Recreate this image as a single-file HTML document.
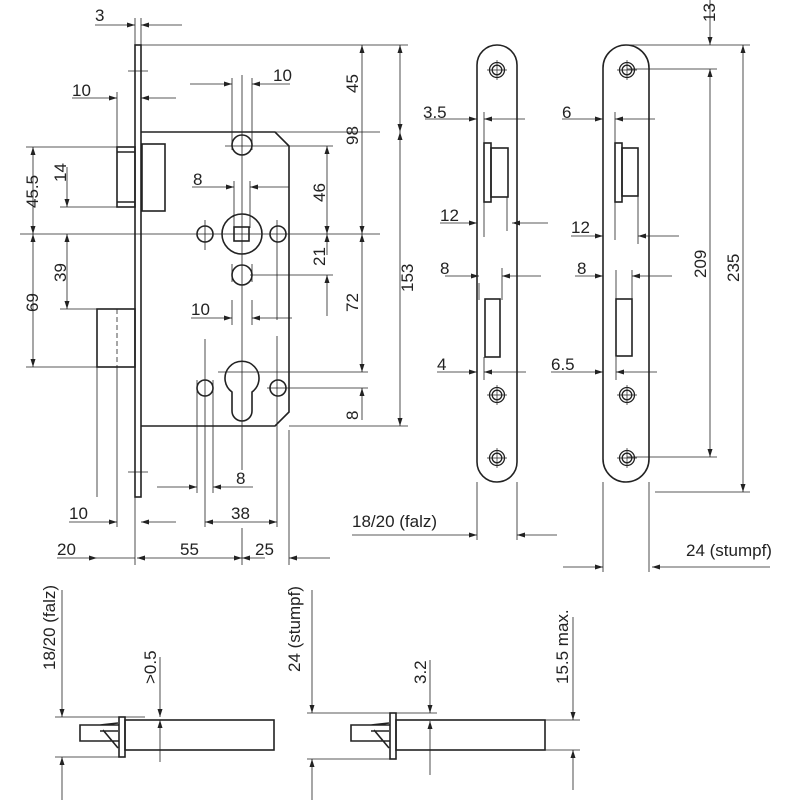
<!DOCTYPE html>
<html><head><meta charset="utf-8"><style>
html,body{margin:0;padding:0;background:#fff;}
svg{display:block;}
text{font-family:"Liberation Sans",sans-serif;font-size:17px;fill:#222;}
</style></head><body>
<svg width="800" height="800" viewBox="0 0 800 800" xmlns="http://www.w3.org/2000/svg">
<defs>
<marker id="a" viewBox="0 0 8 6" refX="8" refY="3" markerWidth="8" markerHeight="6" orient="auto" markerUnits="userSpaceOnUse"><path d="M0,0.5 L8,3 L0,5.5z" fill="#222"/></marker>
<g id="scr"><circle r="7.5" fill="none" stroke="#222" stroke-width="1.3"/><circle r="4.8" fill="none" stroke="#222" stroke-width="1.3"/><path d="M-10,0H10M0,-10V10" stroke="#222" stroke-width="0.7"/></g>
</defs>

<g stroke="#222" stroke-width="0.8" fill="none">
<path d="M20,234H380 M242,75V470"/>
<path d="M135,18V45 M141,18V45 M141,45H408 M275,132H380 M117,92V147 M232,78V150 M252,78V150 M234,181V228 M250,181V228 M128,71H148 M128,472H148"/>
<path d="M225,146H333 M250,275H333 M218,372H368 M267,388H368 M289,426H408 M26,147H117 M60,207H117 M60,309H97 M26,367H97"/>
<path d="M232,264V282 M252,264V282 M232,300V325 M252,300V325"/>
<path d="M197,380V493 M213,380V493 M205,339V527 M277,336V527 M205,395V350 M277,220V250 M205,220V250 M277,250V320"/>
<path d="M117,367V527 M97,367V497 M135,497V565 M289,430V565 M242,528V565"/>
<path d="M95,25H135" marker-end="url(#a)"/><path d="M182,25H141" marker-end="url(#a)"/>
<path d="M72,98H117" marker-end="url(#a)"/><path d="M176,98H141" marker-end="url(#a)"/>
<path d="M190,84H232" marker-end="url(#a)"/><path d="M290,84H252" marker-end="url(#a)"/>
<path d="M192,187H234" marker-end="url(#a)"/><path d="M289,187H250" marker-end="url(#a)"/>
<path d="M191,318H232" marker-end="url(#a)"/><path d="M292,318H252" marker-end="url(#a)"/>
<path d="M157,487H197" marker-end="url(#a)"/><path d="M253,487H213" marker-end="url(#a)"/>
<path d="M240,522H205" marker-end="url(#a)"/><path d="M240,522H277" marker-end="url(#a)"/>
<path d="M69,522H117" marker-end="url(#a)"/><path d="M176,522H141" marker-end="url(#a)"/>
<path d="M57,558H97" marker-end="url(#a)"/><path d="M97,558H135"/>
<path d="M190,558H137" marker-end="url(#a)"/><path d="M190,558H242" marker-end="url(#a)"/>
<path d="M265,558H242" marker-end="url(#a)"/><path d="M330,558H289" marker-end="url(#a)"/>
<path d="M400,90V45" marker-end="url(#a)"/><path d="M400,90V132" marker-end="url(#a)"/>
<path d="M400,280V132" marker-end="url(#a)"/><path d="M400,280V426" marker-end="url(#a)"/>
<path d="M362,140V45" marker-end="url(#a)"/><path d="M362,140V234" marker-end="url(#a)"/>
<path d="M362,300V234" marker-end="url(#a)"/><path d="M362,300V372" marker-end="url(#a)"/>
<path d="M362,420V388" marker-end="url(#a)"/>
<path d="M327,190V146" marker-end="url(#a)"/><path d="M327,190V234" marker-end="url(#a)"/>
<path d="M327,255V234" marker-end="url(#a)"/><path d="M327,316V275" marker-end="url(#a)"/>
<path d="M33,190V147" marker-end="url(#a)"/><path d="M33,190V234" marker-end="url(#a)"/>
<path d="M33,300V234" marker-end="url(#a)"/><path d="M33,300V367" marker-end="url(#a)"/>
<path d="M67,167V207" marker-end="url(#a)"/>
<path d="M67,270V234" marker-end="url(#a)"/><path d="M67,270V309" marker-end="url(#a)"/>

<path d="M484,112V237 M507,197V231 M479,283V300 M502,268V300 M484,357V380 M477,482V540 M517,482V540"/>
<path d="M425,119H477" marker-end="url(#a)"/><path d="M525,119H484" marker-end="url(#a)"/>
<path d="M440,223H477" marker-end="url(#a)"/><path d="M548,223H512" marker-end="url(#a)"/>
<path d="M445,276H479" marker-end="url(#a)"/><path d="M541,276H502" marker-end="url(#a)"/>
<path d="M437,372H477" marker-end="url(#a)"/><path d="M526,372H484" marker-end="url(#a)"/>
<path d="M352,535H477" marker-end="url(#a)"/><path d="M557,535H517" marker-end="url(#a)"/>
<path d="M615,112V240 M638,196V244 M616,270V300 M632,270V300 M616,357V380 M603,482V572 M649,482V572"/>
<path d="M562,119H603" marker-end="url(#a)"/><path d="M655,119H615" marker-end="url(#a)"/>
<path d="M571,236H603" marker-end="url(#a)"/><path d="M679,236H638" marker-end="url(#a)"/>
<path d="M575,276H603" marker-end="url(#a)"/><path d="M672,276H632" marker-end="url(#a)"/>
<path d="M551,372H603" marker-end="url(#a)"/><path d="M657,372H616" marker-end="url(#a)"/>
<path d="M563,567H603" marker-end="url(#a)"/><path d="M770,567H652" marker-end="url(#a)"/>
<path d="M627,45H750 M627,69H717 M627,457H717 M655,492H750"/>
<path d="M710,0V45" marker-end="url(#a)"/>
<path d="M710,265V69" marker-end="url(#a)"/><path d="M710,265V457" marker-end="url(#a)"/>
<path d="M743,265V45" marker-end="url(#a)"/><path d="M743,265V492" marker-end="url(#a)"/>

<path d="M55,717H145 M55,757H120 M125,720H167"/>
<path d="M62,590V717" marker-end="url(#a)"/><path d="M62,800V757" marker-end="url(#a)"/>
<path d="M160,657V717" marker-end="url(#a)"/><path d="M160,762V720" marker-end="url(#a)"/>
<path d="M307,713H437 M307,759H392 M545,720H580 M545,750H580"/>
<path d="M312,590V713" marker-end="url(#a)"/><path d="M312,800V759" marker-end="url(#a)"/>
<path d="M430,660V713" marker-end="url(#a)"/><path d="M430,775V721" marker-end="url(#a)"/>
<path d="M573,617V720" marker-end="url(#a)"/><path d="M573,790V750" marker-end="url(#a)"/>
<path d="M117,309V367" stroke-dasharray="5,3"/>
</g>

<g stroke="#222" stroke-width="1.6" fill="none">
<rect x="135" y="45" width="6" height="452"/>
<path d="M141,132H275L289,146V412L275,426H141"/>
<rect x="117" y="147" width="18" height="60"/>
<path d="M117,152H135 M117,202H135"/>
<rect x="142" y="144" width="23" height="67"/>
<rect x="97" y="309" width="38" height="58"/>
<circle cx="242" cy="145" r="10"/>
<circle cx="242" cy="275" r="10"/>
<circle cx="242" cy="234" r="20"/>
<rect x="234" y="227" width="15" height="14"/>
<circle cx="205" cy="234" r="8"/>
<circle cx="278" cy="234" r="8"/>
<circle cx="205" cy="388" r="8"/>
<circle cx="278" cy="388" r="8"/>
<path d="M232,392A17,17 0 1 1 252,392V411A10,10 0 0 1 232,411Z"/>
<rect x="477" y="45" width="40" height="437" rx="20" ry="20"/>
<rect x="484" y="143" width="7" height="59"/>
<rect x="491" y="148" width="17" height="49"/>
<rect x="485" y="299" width="15" height="58"/>
<rect x="603" y="45" width="46" height="437" rx="23" ry="23"/>
<rect x="615" y="143" width="7" height="59"/>
<rect x="622" y="148" width="16" height="48"/>
<rect x="616" y="299" width="16" height="57"/>
<rect x="119" y="717" width="6" height="40"/>
<rect x="125" y="720" width="149" height="30"/>
<path d="M119,725H80V741H119 M100,725L118,723 M100,731H118 M103,730L118,748"/>
<rect x="390" y="713" width="6" height="46"/>
<rect x="396" y="720" width="149" height="30"/>
<path d="M390,725H351V741H390 M371,725L389,723 M371,731H389 M374,730L389,748"/>
</g>
<use href="#scr" x="497" y="70"/><use href="#scr" x="497" y="395"/><use href="#scr" x="497" y="458"/>
<use href="#scr" x="627" y="70"/><use href="#scr" x="627" y="395"/><use href="#scr" x="627" y="458"/>

<g>
<text x="95" y="21">3</text>
<text x="72" y="96">10</text>
<text x="273" y="81">10</text>
<text x="193" y="185">8</text>
<text x="191" y="315">10</text>
<text x="236" y="484">8</text>
<text x="231" y="519">38</text>
<text x="69" y="519">10</text>
<text x="57" y="555">20</text>
<text x="180" y="555">55</text>
<text x="255" y="555">25</text>
<text x="423" y="118">3.5</text>
<text x="440" y="221">12</text>
<text x="440" y="274">8</text>
<text x="437" y="370">4</text>
<text x="352" y="527">18/20 (falz)</text>
<text x="562" y="118">6</text>
<text x="571" y="233">12</text>
<text x="577" y="274">8</text>
<text x="551" y="370">6.5</text>
<text x="686" y="556">24 (stumpf)</text>
<text transform="translate(358,93) rotate(-90)">45</text>
<text transform="translate(358,145) rotate(-90)">98</text>
<text transform="translate(413,292) rotate(-90)">153</text>
<text transform="translate(325,202) rotate(-90)">46</text>
<text transform="translate(325,266) rotate(-90)">21</text>
<text transform="translate(358,312) rotate(-90)">72</text>
<text transform="translate(358,420) rotate(-90)">8</text>
<text transform="translate(38,208) rotate(-90)">45.5</text>
<text transform="translate(66,182) rotate(-90)">14</text>
<text transform="translate(66,282) rotate(-90)">39</text>
<text transform="translate(38,312) rotate(-90)">69</text>
<text transform="translate(715,22) rotate(-90)">13</text>
<text transform="translate(706,278) rotate(-90)">209</text>
<text transform="translate(739,282) rotate(-90)">235</text>
<text transform="translate(55,670) rotate(-90)">18/20 (falz)</text>
<text transform="translate(156,684) rotate(-90)">&gt;0.5</text>
<text transform="translate(300,672) rotate(-90)">24 (stumpf)</text>
<text transform="translate(426,684) rotate(-90)">3.2</text>
<text transform="translate(568,684) rotate(-90)">15.5 max.</text>
</g>
</svg>
</body></html>
